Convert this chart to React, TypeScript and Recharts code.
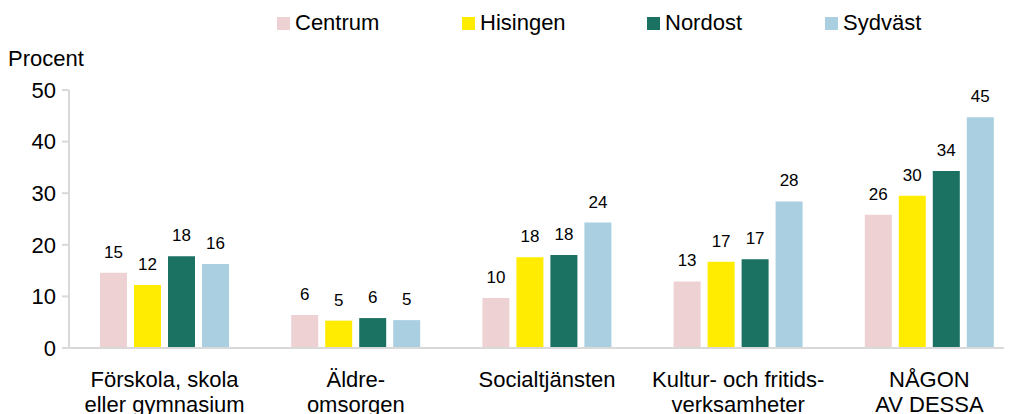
import { BarChart, Bar, XAxis, YAxis, LabelList } from 'recharts'

const categories = [
  'Förskola, skola\neller gymnasium',
  'Äldre-\nomsorgen',
  'Socialtjänsten',
  'Kultur- och fritids-\nverksamheter',
  'NÅGON\nAV DESSA',
]
const centrum = [14.6, 6.4, 9.7, 12.9, 25.8]
const hisingen = [12.2, 5.3, 17.6, 16.7, 29.5]
const nordost = [17.8, 5.8, 18.0, 17.2, 34.3]
const sydvast = [16.3, 5.4, 24.3, 28.4, 44.7]
const yTicks = [0, 10, 20, 30, 40, 50]

const series = [
  { key: 'centrum', name: 'Centrum', color: '#eed2d3', values: centrum },
  { key: 'hisingen', name: 'Hisingen', color: '#ffec00', values: hisingen },
  { key: 'nordost', name: 'Nordost', color: '#1b7263', values: nordost },
  { key: 'sydvast', name: 'Sydväst', color: '#aacfe1', values: sydvast },
]

const data = categories.map((cat, i) => {
  const row: Record<string, string | number> = { cat }
  series.forEach((s) => (row[s.key] = s.values[i]))
  return row
})

const FONT = '"Liberation Sans", Arial, sans-serif'
const legendLeft = [269, 454, 639, 817]

function CatTick({ x, y, payload }: any) {
  const lines = String(payload.value).split('\n')
  return (
    <text x={x} y={y} textAnchor="middle" fontSize={22} fill="#000" fontFamily={FONT}>
      {lines.map((l, i) => (
        <tspan key={i} x={x} dy={i === 0 ? 37 : 25}>
          {l}
        </tspan>
      ))}
    </text>
  )
}

export default function App() {
  return (
    <div style={{ position: 'relative', width: 1004, height: 406, overflow: 'hidden', fontFamily: FONT }}>
      {series.map((s, i) => (
        <div
          key={s.key}
          style={{ position: 'absolute', left: legendLeft[i], top: 2, display: 'flex', alignItems: 'center', fontSize: 22, color: '#000', whiteSpace: 'nowrap' }}
        >
          <span style={{ display: 'inline-block', width: 13, height: 13, background: s.color, marginRight: 5 }} />
          {s.name}
        </div>
      ))}
      <div style={{ position: 'absolute', left: 0, top: 38, fontSize: 22, color: '#000' }}>Procent</div>
      <BarChart
        width={1020}
        height={406}
        data={data}
        margin={{ top: 82, right: 3, bottom: 0, left: 0 }}
        barSize={27}
        barGap={7}
      >
        <XAxis
          dataKey="cat"
          axisLine={{ stroke: '#d9d9d9', strokeWidth: 2 }}
          tickLine={false}
          tickSize={0}
          height={66}
          interval={0}
          tick={<CatTick />}
        />
        <YAxis
          domain={[0, 50]}
          ticks={yTicks}
          width={61}
          axisLine={{ stroke: '#d9d9d9', strokeWidth: 2 }}
          tickLine={{ stroke: '#d9d9d9', strokeWidth: 2 }}
          tickSize={7}
          tickMargin={6}
          tick={{ fontSize: 22, fill: '#000', fontFamily: FONT }}
        />
        {series.map((s) => (
          <Bar key={s.key} dataKey={s.key} name={s.name} fill={s.color} isAnimationActive={false}>
            <LabelList
              dataKey={s.key}
              position="top"
              offset={15}
              formatter={(v: any) => Math.round(Number(v))}
              style={{ fontSize: 17, fill: '#000', fontFamily: FONT }}
            />
          </Bar>
        ))}
      </BarChart>
    </div>
  )
}
